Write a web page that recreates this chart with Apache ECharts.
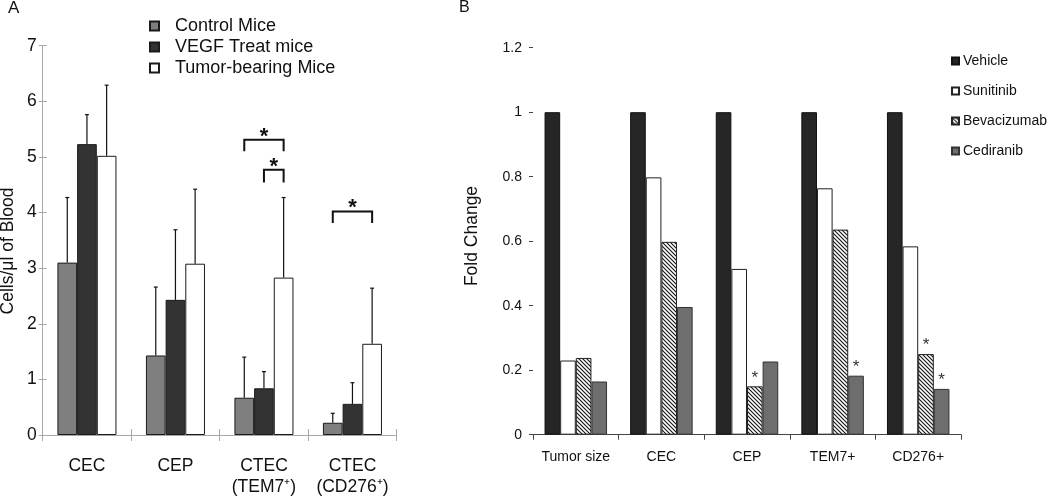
<!DOCTYPE html>
<html><head><meta charset="utf-8">
<script src="https://cdn.jsdelivr.net/npm/echarts@6/dist/echarts.min.js"></script>
<style>html,body{margin:0;padding:0;background:#fff}#c{width:1050px;height:498px}</style>
</head><body><div id="c"></div>
<script>
// ---------- Panel A data ----------
const catsA = ['CEC', 'CEP', 'CTEC\n(TEM7\u207A)', 'CTEC\n(CD276\u207A)'];
const groupsA = ['Control Mice', 'VEGF Treat mice', 'Tumor-bearing Mice'];
const controlMice = [3.10, 1.43, 0.67, 0.22];
const vegfMice = [5.23, 2.43, 0.84, 0.56];
const tumorMice = [5.02, 3.08, 2.83, 1.64];
const controlErrTop = [4.27, 2.66, 1.40, 0.39];
const vegfErrTop = [5.76, 3.69, 1.14, 0.94];
const tumorErrTop = [6.29, 4.42, 4.27, 2.64];
const yTicksA = [0, 1, 2, 3, 4, 5, 6, 7];
// significance brackets: [category, fromGroup, toGroup, topValue, legValue]
const bracketsA = [[2, 0, 2, 5.31, 5.10], [2, 1, 2, 4.77, 4.54], [3, 0, 2, 4.02, 3.81]];

// ---------- Panel B data ----------
const catsB = ['Tumor size', 'CEC', 'CEP', 'TEM7+', 'CD276+'];
const vehicle = [1, 1, 1, 1, 1];
const sunitinib = [0.230, 0.798, 0.514, 0.764, 0.584];
const bevacizumab = [0.238, 0.598, 0.150, 0.636, 0.250];
const cediranib = [0.165, 0.396, 0.227, 0.183, 0.142];
const bevStars = ['CEP', 'CD276+'];
const cedStars = ['TEM7+', 'CD276+'];
const yTicksB = [0, 0.2, 0.4, 0.6, 0.8, 1, 1.2];

const FONT = 'Liberation Sans, Arial, Helvetica, sans-serif';
const gapA = 0.333, gapB = 0.27;

function hatch() {
  const c = document.createElement('canvas'); c.width = 4; c.height = 4;
  const g = c.getContext('2d');
  g.fillStyle = '#fff'; g.fillRect(0, 0, 4, 4);
  g.strokeStyle = '#111'; g.lineWidth = 1.1; g.beginPath();
  g.moveTo(-1, -1); g.lineTo(5, 5);
  g.moveTo(3, -1); g.lineTo(5, 1);
  g.moveTo(-1, 3); g.lineTo(1, 5);
  g.stroke();
  return c;
}

const errData = [];
[[controlMice, controlErrTop], [vegfMice, vegfErrTop], [tumorMice, tumorErrTop]].forEach((pair, s) => {
  pair[0].forEach((v, i) => errData.push([i, s, v, pair[1][i]]));
});

function barCenter(api, cat, s) {
  const band = api.size([1, 0])[0];
  const w = band * (1 - gapA) / 3;
  return api.coord([cat, 0])[0] + (s - 1) * w;
}

const chart = echarts.init(document.getElementById('c'), null, { renderer: 'canvas' });

function starData(vals, starCats) {
  return vals.map((v, i) => starCats.indexOf(catsB[i]) >= 0 ? { value: v, label: { show: true } } : v);
}
const starLabel = { show: false, position: 'top', formatter: '*', fontSize: 17, color: '#333', distance: 0, fontFamily: FONT };

const option = {
  animation: false,
  textStyle: { fontFamily: FONT },
  graphic: [
    { type: 'text', left: 8, top: 0, style: { text: 'A', font: '17px ' + FONT, fill: '#111' } },
    { type: 'text', left: 459, top: 0, style: { text: 'B', font: '16px ' + FONT, fill: '#111' } },
    { type: 'text', x: 8, y: 251, rotation: Math.PI / 2, style: { text: 'Cells/\u03BCl of Blood', font: '17.5px ' + FONT, fill: '#111', align: 'center', verticalAlign: 'middle' } },
    { type: 'text', x: 472, y: 236, rotation: Math.PI / 2, style: { text: 'Fold Change', font: '17.5px ' + FONT, fill: '#111', align: 'center', verticalAlign: 'middle' } }
  ],
  legend: [
    {
      data: groupsA, orient: 'vertical', left: 149, top: 17, icon: 'rect', padding: 0,
      itemWidth: 9, itemHeight: 9, itemGap: 3,
      textStyle: { fontSize: 18, color: '#111', lineHeight: 18, padding: [0, 0, 0, 11], fontFamily: FONT }
    },
    {
      data: ['Vehicle', 'Sunitinib', 'Bevacizumab', 'Cediranib'], orient: 'vertical', left: 951, top: 54, icon: 'rect', padding: 0,
      itemWidth: 7, itemHeight: 7, itemGap: 16,
      textStyle: { fontSize: 14, color: '#111', lineHeight: 14, padding: [0, 0, 0, -1], fontFamily: FONT }
    }
  ],
  grid: [
    { left: 42.7, right: 653.3, top: 45.7, bottom: 62 },
    { left: 533, right: 89, top: 47.7, bottom: 63.3 }
  ],
  xAxis: [
    {
      type: 'category', gridIndex: 0, data: catsA,
      axisLine: { lineStyle: { color: '#a8a8a8', width: 1 } },
      axisTick: { show: true, length: 6, lineStyle: { color: '#a8a8a8' } },
      axisLabel: { fontSize: 17.5, color: '#111', margin: 20, lineHeight: 21.5, interval: 0 }
    },
    {
      type: 'category', gridIndex: 0, data: catsA, position: 'bottom',
      axisLine: { show: false }, axisLabel: { show: false },
      axisTick: { show: true, inside: true, length: 6, lineStyle: { color: '#a8a8a8' } }
    },
    {
      type: 'category', gridIndex: 1, data: catsB,
      axisLine: { lineStyle: { color: '#444', width: 1 } },
      axisTick: { show: true, length: 5, lineStyle: { color: '#444' } },
      axisLabel: { fontSize: 14, color: '#111', margin: 15, interval: 0 }
    }
  ],
  yAxis: [
    {
      type: 'value', gridIndex: 0, min: yTicksA[0], max: yTicksA[yTicksA.length - 1], interval: 1,
      axisLine: { show: true, lineStyle: { color: '#a8a8a8' } },
      axisTick: { show: true, length: 4, lineStyle: { color: '#a8a8a8' } },
      axisLabel: { fontSize: 17.5, color: '#111', margin: 6 },
      splitLine: { show: false }
    },
    {
      type: 'value', gridIndex: 0, min: yTicksA[0], max: yTicksA[yTicksA.length - 1], interval: 1, position: 'left',
      axisLine: { show: false }, axisLabel: { show: false },
      axisTick: { show: true, inside: true, length: 4, lineStyle: { color: '#a8a8a8' } },
      splitLine: { show: false }
    },
    {
      type: 'value', gridIndex: 1, min: yTicksB[0], max: yTicksB[yTicksB.length - 1], interval: 0.2,
      axisLine: { show: false },
      axisTick: { show: true, length: 4, lineStyle: { color: '#444' } },
      axisLabel: { fontSize: 14, color: '#111', margin: 11 },
      splitLine: { show: false }
    }
  ],
  series: [
    { name: groupsA[0], type: 'bar', xAxisIndex: 0, yAxisIndex: 0, data: controlMice, barGap: '0%', barCategoryGap: (gapA * 100) + '%',
      itemStyle: { color: '#7f7f7f', borderColor: '#1a1a1a', borderWidth: 1 } },
    { name: groupsA[1], type: 'bar', xAxisIndex: 0, yAxisIndex: 0, data: vegfMice, barGap: '0%', barCategoryGap: (gapA * 100) + '%',
      itemStyle: { color: '#333333', borderColor: '#1a1a1a', borderWidth: 1 } },
    { name: groupsA[2], type: 'bar', xAxisIndex: 0, yAxisIndex: 0, data: tumorMice, barGap: '0%', barCategoryGap: (gapA * 100) + '%',
      itemStyle: { color: '#ffffff', borderColor: '#1a1a1a', borderWidth: 1 } },
    {
      name: 'errors', type: 'custom', xAxisIndex: 0, yAxisIndex: 0, data: errData, z: 5,
      encode: { x: 0, y: [2, 3] },
      renderItem: function (params, api) {
        const cat = api.value(0), s = api.value(1);
        const cx = barCenter(api, cat, s);
        const yb = api.coord([cat, api.value(2)])[1];
        const yt = api.coord([cat, api.value(3)])[1];
        const st = { stroke: '#111', lineWidth: 1.2 };
        return { type: 'group', children: [
          { type: 'line', shape: { x1: cx, y1: yb, x2: cx, y2: yt }, style: st },
          { type: 'line', shape: { x1: cx - 2, y1: yt, x2: cx + 2, y2: yt }, style: st }
        ] };
      }
    },
    {
      name: 'brackets', type: 'custom', xAxisIndex: 0, yAxisIndex: 0, data: bracketsA, z: 5,
      encode: { x: 0, y: [3, 4] },
      renderItem: function (params, api) {
        const cat = api.value(0);
        const x1 = barCenter(api, cat, api.value(1));
        const x2 = barCenter(api, cat, api.value(2));
        const yt = api.coord([cat, api.value(3)])[1];
        const yl = api.coord([cat, api.value(4)])[1];
        return { type: 'group', children: [
          { type: 'polyline', shape: { points: [[x1, yl], [x1, yt], [x2, yt], [x2, yl]] }, style: { stroke: '#111', lineWidth: 2, fill: null } },
          { type: 'text', style: { text: '*', x: (x1 + x2) / 2, y: yt + 8, align: 'center', verticalAlign: 'bottom', font: 'bold 22px ' + FONT, fill: '#111' } }
        ] };
      }
    },
    { name: 'Vehicle', type: 'bar', xAxisIndex: 2, yAxisIndex: 2, data: vehicle, barGap: '0%', barCategoryGap: (gapB * 100) + '%',
      itemStyle: { color: '#262626', borderColor: '#111', borderWidth: 1 } },
    { name: 'Sunitinib', type: 'bar', xAxisIndex: 2, yAxisIndex: 2, data: sunitinib, barGap: '0%', barCategoryGap: (gapB * 100) + '%',
      itemStyle: { color: '#ffffff', borderColor: '#222', borderWidth: 1 } },
    { name: 'Bevacizumab', type: 'bar', xAxisIndex: 2, yAxisIndex: 2, data: starData(bevacizumab, bevStars), barGap: '0%', barCategoryGap: (gapB * 100) + '%',
      label: starLabel,
      itemStyle: { color: { image: hatch(), repeat: 'repeat' }, borderColor: '#222', borderWidth: 1 } },
    { name: 'Cediranib', type: 'bar', xAxisIndex: 2, yAxisIndex: 2, data: starData(cediranib, cedStars), barGap: '0%', barCategoryGap: (gapB * 100) + '%',
      label: starLabel,
      itemStyle: { color: '#6e6e6e', borderColor: '#333', borderWidth: 1 } }
  ]
};
chart.setOption(option);
</script>
</body></html>
